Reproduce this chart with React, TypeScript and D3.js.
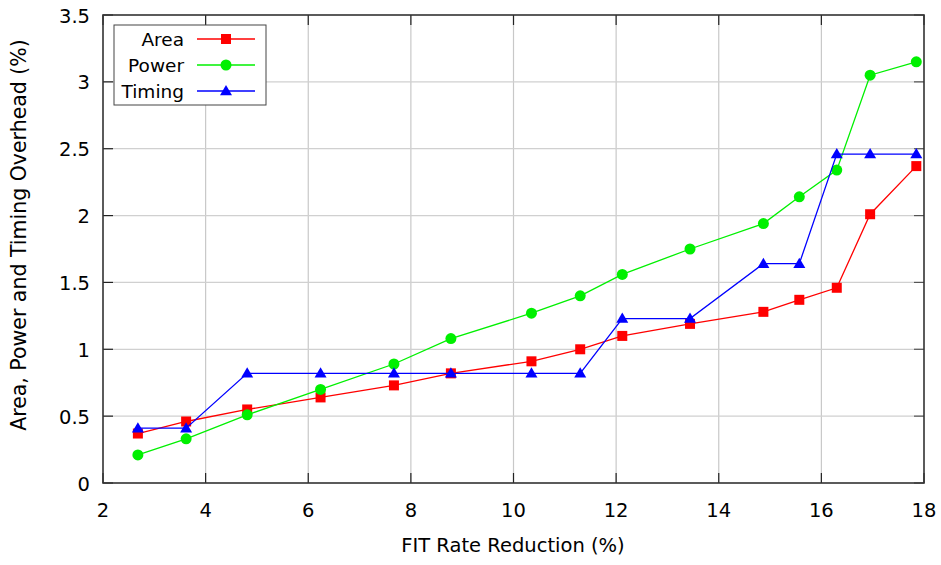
import React from "react";
import * as d3 from "d3";

const fitReduction = [2.68, 3.62, 4.81, 6.24, 7.67, 8.78, 10.35, 11.3, 12.12, 13.44, 14.87, 15.57, 16.3, 16.95, 17.85];
const areaOverhead = [0.37, 0.46, 0.55, 0.64, 0.73, 0.82, 0.91, 1.0, 1.1, 1.19, 1.28, 1.37, 1.46, 2.01, 2.37];
const powerOverhead = [0.21, 0.33, 0.51, 0.70, 0.89, 1.08, 1.27, 1.40, 1.56, 1.75, 1.94, 2.14, 2.34, 3.05, 3.15];
const timingOverhead = [0.41, 0.41, 0.82, 0.82, 0.82, 0.82, 0.82, 0.82, 1.23, 1.23, 1.64, 1.64, 2.46, 2.46, 2.46];
const xTicks = [2, 4, 6, 8, 10, 12, 14, 16, 18];
const yTicks = [0, 0.5, 1, 1.5, 2, 2.5, 3, 3.5];
const seriesNames = ["Area", "Power", "Timing"];
const seriesColors = ["#ff0000", "#00f000", "#0000ff"];

const W = 941, H = 565;
const L = 103, R = 924, T = 15, B = 483;
const FONT = "'DejaVu Sans', sans-serif";

function Marker({ kind, x, y, color }: { kind: number; x: number; y: number; color: string }) {
  if (kind === 0) return <rect x={x - 5} y={y - 5} width={10} height={10} fill={color} />;
  if (kind === 1) return <circle cx={x} cy={y} r={5.5} fill={color} />;
  const s = 6;
  return <path d={`M${x},${y - s} L${x + s},${y + s * 0.7} L${x - s},${y + s * 0.7} Z`} fill={color} />;
}

export default function App() {
  const x = d3.scaleLinear().domain([2, 18]).range([L, R]);
  const y = d3.scaleLinear().domain([0, 3.5]).range([B, T]);
  const series = [areaOverhead, powerOverhead, timingOverhead];
  const line = d3.line<[number, number]>().x((d) => x(d[0])).y((d) => y(d[1]));

  return (
    <svg width={W} height={H} style={{ display: "block", position: "absolute", left: 0, top: 0 }} fontFamily={FONT}>
      <rect x={0} y={0} width={W} height={H} fill="#fff" />
      {/* grid */}
      {xTicks.slice(1, -1).map((t) => (
        <line key={"gx" + t} x1={x(t)} x2={x(t)} y1={T} y2={B} stroke="#c8c8c8" strokeWidth={1.2} />
      ))}
      {yTicks.slice(1, -1).map((t) => (
        <line key={"gy" + t} x1={L} x2={R} y1={y(t)} y2={y(t)} stroke="#d0d0d0" strokeWidth={1.2} />
      ))}
      {/* ticks */}
      {xTicks.map((t) => (
        <g key={"tx" + t}>
          <line x1={x(t)} x2={x(t)} y1={B} y2={B - 10} stroke="#222" strokeWidth={1.2} />
          <line x1={x(t)} x2={x(t)} y1={T} y2={T + 10} stroke="#222" strokeWidth={1.2} />
          <text x={x(t)} y={517} fontSize={19.5} textAnchor="middle" fill="#000">{t}</text>
        </g>
      ))}
      {yTicks.map((t) => (
        <g key={"ty" + t}>
          <line x1={L} x2={L + 10} y1={y(t)} y2={y(t)} stroke="#222" strokeWidth={1.2} />
          <line x1={R} x2={R - 10} y1={y(t)} y2={y(t)} stroke="#555" strokeWidth={1.2} />
          <text x={90} y={y(t) + 7.5} fontSize={19.5} textAnchor="end" fill="#000">{t}</text>
        </g>
      ))}
      {/* series */}
      {series.map((vals, si) => {
        const pts: [number, number][] = fitReduction.map((f, i) => [f, vals[i]]);
        return (
          <g key={"s" + si}>
            <path d={line(pts) || ""} fill="none" stroke={seriesColors[si]} strokeWidth={1.3} />
            {pts.map((p, i) => (
              <Marker key={i} kind={si} x={x(p[0])} y={y(p[1])} color={seriesColors[si]} />
            ))}
          </g>
        );
      })}
      {/* frame */}
      <rect x={L} y={T} width={R - L} height={B - T} fill="none" stroke="#333" strokeWidth={1.6} />
      {/* legend */}
      <rect x={114} y={25} width={152} height={80} fill="#fff" stroke="#444" strokeWidth={1} />
      {seriesNames.map((n, i) => {
        const ly = 39 + i * 26;
        return (
          <g key={"lg" + n}>
            <text x={184} y={ly + 7} fontSize={18.5} textAnchor="end" fill="#000">{n}</text>
            <line x1={197} x2={255} y1={ly} y2={ly} stroke={seriesColors[i]} strokeWidth={1.3} />
            <Marker kind={i} x={226} y={ly} color={seriesColors[i]} />
          </g>
        );
      })}
      {/* axis labels */}
      <text x={513} y={552} fontSize={19.5} textAnchor="middle" fill="#000">FIT Rate Reduction (%)</text>
      <text transform={`translate(26,235) rotate(-90)`} fontSize={20.5} textAnchor="middle" fill="#000">
        Area, Power and Timing Overhead (%)
      </text>
    </svg>
  );
}
